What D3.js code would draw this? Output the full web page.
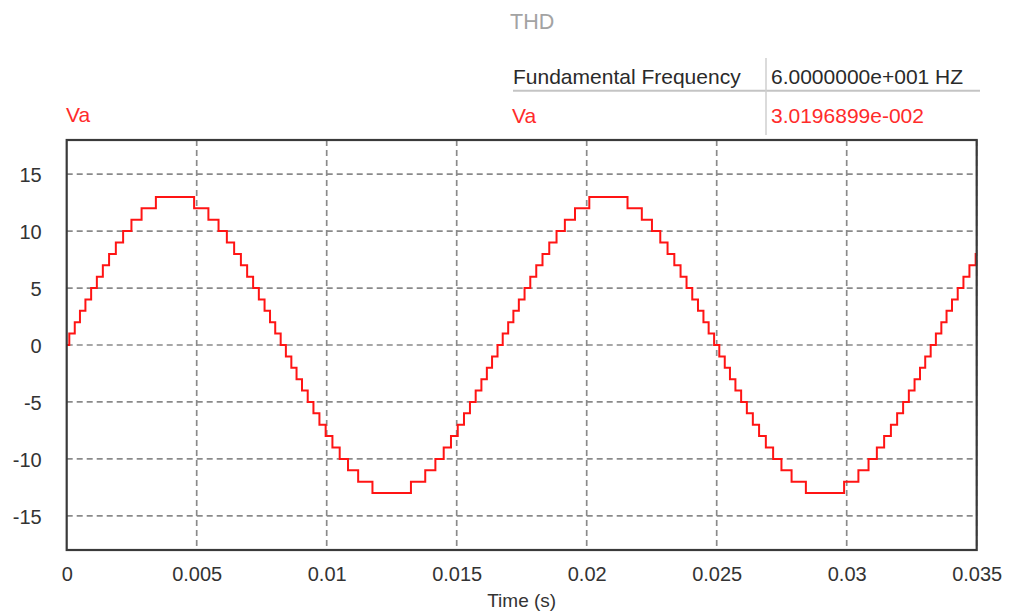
<!DOCTYPE html>
<html>
<head>
<meta charset="utf-8">
<script src="https://cdn.jsdelivr.net/npm/d3@7"></script>
<style>
  html, body { margin: 0; padding: 0; background: #ffffff; }
  svg { display: block; }
  text { font-family: "Liberation Sans", Arial, sans-serif; }
</style>
</head>
<body>
<svg id="chart" width="1009" height="612"></svg>
<script>
// ---- data ----
const title = "THD";
const seriesName = "Va";
const tableLabels = ["Fundamental Frequency", "Va"];
const tableValues = ["6.0000000e+001 HZ", "3.0196899e-002"];
const xLabel = "Time (s)";

const xTicks = [0, 0.005, 0.01, 0.015, 0.02, 0.025, 0.03, 0.035];
const xTickLabels = ["0", "0.005", "0.01", "0.015", "0.02", "0.025", "0.03", "0.035"];
const yTicks = [-15, -10, -5, 0, 5, 10, 15];
const yTickLabels = ["-15", "-10", "-5", "0", "5", "10", "15"];

// start time (s) of each constant level of the staircase voltage Va
const stepTimes = [
  0, 0.00010, 0.00031, 0.00051, 0.00072, 0.00094, 0.00116, 0.00139, 0.00163, 0.00189, 0.00217, 0.00249, 0.00288, 0.00343,
  0.00490, 0.00545, 0.00584, 0.00616, 0.00644, 0.00670, 0.00694, 0.00717, 0.00739, 0.00761, 0.00782, 0.00802, 0.00823,
  0.00843, 0.00864, 0.00884, 0.00905, 0.00927, 0.00949, 0.00972, 0.00996, 0.01022, 0.01050, 0.01082, 0.01121, 0.01176,
  0.01324, 0.01379, 0.01418, 0.01450, 0.01478, 0.01504, 0.01528, 0.01551, 0.01573, 0.01595, 0.01616, 0.01636, 0.01657,
  0.01677, 0.01698, 0.01718, 0.01739, 0.01761, 0.01783, 0.01806, 0.01830, 0.01856, 0.01884, 0.01916, 0.01955, 0.02010,
  0.02157, 0.02212, 0.02251, 0.02283, 0.02311, 0.02337, 0.02361, 0.02384, 0.02406, 0.02428, 0.02449, 0.02469, 0.02490,
  0.02510, 0.02531, 0.02551, 0.02572, 0.02594, 0.02616, 0.02639, 0.02663, 0.02689, 0.02717, 0.02749, 0.02788, 0.02843,
  0.02990, 0.03045, 0.03084, 0.03116, 0.03144, 0.03170, 0.03194, 0.03217, 0.03239, 0.03261, 0.03282, 0.03302, 0.03323,
  0.03343, 0.03364, 0.03384, 0.03405, 0.03427, 0.03449, 0.03472, 0.03496
];
// level (V) held from each start time
const stepLevels = [
  0, 1, 2, 3, 4, 5, 6, 7, 8, 9, 10, 11, 12, 13,
  12, 11, 10, 9, 8, 7, 6, 5, 4, 3, 2, 1, 0,
  -1, -2, -3, -4, -5, -6, -7, -8, -9, -10, -11, -12, -13,
  -12, -11, -10, -9, -8, -7, -6, -5, -4, -3, -2, -1, 0,
  1, 2, 3, 4, 5, 6, 7, 8, 9, 10, 11, 12, 13,
  12, 11, 10, 9, 8, 7, 6, 5, 4, 3, 2, 1, 0,
  -1, -2, -3, -4, -5, -6, -7, -8, -9, -10, -11, -12, -13,
  -12, -11, -10, -9, -8, -7, -6, -5, -4, -3, -2, -1, 0,
  1, 2, 3, 4, 5, 6, 7, 8
];
const tEnd = 0.035;
const yDomain = [-18, 18];

// ---- drawing ----
const svg = d3.select("#chart");
const plot = { left: 66.7, right: 976.7, top: 140, bottom: 550 };

const x = d3.scaleLinear().domain([0, tEnd]).range([plot.left, plot.right]);
const y = d3.scaleLinear().domain(yDomain).range([plot.bottom, plot.top]);

// title
svg.append("text")
  .attr("x", 510).attr("y", 29)
  .attr("font-size", 21.5).attr("fill", "#a3a3a3")
  .text(title);

// table lines
svg.append("line")
  .attr("x1", 513).attr("x2", 980).attr("y1", 90.7).attr("y2", 90.7)
  .attr("stroke", "#c4c4c4").attr("stroke-width", 2);
svg.append("line")
  .attr("x1", 766).attr("x2", 766).attr("y1", 58).attr("y2", 135)
  .attr("stroke", "#cfcfcf").attr("stroke-width", 1.5);

// table text
svg.append("text").attr("x", 513).attr("y", 84).attr("font-size", 21)
  .attr("fill", "#2a2a2a").text(tableLabels[0]);
svg.append("text").attr("x", 771).attr("y", 84).attr("font-size", 21)
  .attr("fill", "#2a2a2a").text(tableValues[0]);
svg.append("text").attr("x", 512).attr("y", 123).attr("font-size", 21)
  .attr("fill", "#ff2b2b").text(tableLabels[1]);
svg.append("text").attr("x", 771).attr("y", 123).attr("font-size", 21)
  .attr("fill", "#ff2b2b").text(tableValues[1]);

// series name at left
svg.append("text").attr("x", 66).attr("y", 122).attr("font-size", 21)
  .attr("fill", "#ff2b2b").text(seriesName);

// grid
const grid = svg.append("g");
grid.selectAll("line.h").data(yTicks).join("line")
  .attr("x1", plot.left).attr("x2", plot.right)
  .attr("y1", d => y(d)).attr("y2", d => y(d))
  .attr("stroke", "#8a8a8a").attr("stroke-width", 1.7)
  .attr("stroke-dasharray", "6,4");
grid.selectAll("line.v").data(xTicks.slice(1)).join("line")
  .attr("x1", d => x(d)).attr("x2", d => x(d))
  .attr("y1", plot.top).attr("y2", plot.bottom)
  .attr("stroke", "#8a8a8a").attr("stroke-width", 1.7)
  .attr("stroke-dasharray", "6,4");

// clip
svg.append("clipPath").attr("id", "clip").append("rect")
  .attr("x", plot.left).attr("y", plot.top)
  .attr("width", plot.right - plot.left).attr("height", plot.bottom - plot.top);

// series
const pts = stepTimes.map((t, i) => [t, stepLevels[i]]);
pts.push([tEnd, stepLevels[stepLevels.length - 1]]);
const line = d3.line().x(d => x(d[0])).y(d => y(d[1])).curve(d3.curveStepAfter);
svg.append("path")
  .attr("clip-path", "url(#clip)")
  .attr("d", line(pts))
  .attr("fill", "none").attr("stroke", "#ff1414").attr("stroke-width", 2)
  .attr("stroke-linejoin", "miter");

// frame
svg.append("rect")
  .attr("x", plot.left).attr("y", plot.top)
  .attr("width", plot.right - plot.left).attr("height", plot.bottom - plot.top)
  .attr("fill", "none").attr("stroke", "#3a3a3a").attr("stroke-width", 2.2);

// axes (labels only)
const xAxis = d3.axisBottom(x).tickValues(xTicks).tickSize(0).tickPadding(0)
  .tickFormat((d, i) => xTickLabels[i]);
const gx = svg.append("g").attr("transform", `translate(0,${plot.bottom})`).call(xAxis);
gx.select(".domain").remove();
gx.selectAll("text").attr("font-size", 20).attr("fill", "#333")
  .attr("font-family", "Liberation Sans, Arial, sans-serif")
  .attr("dy", null).attr("y", 31);

const yAxis = d3.axisLeft(y).tickValues(yTicks).tickSize(0).tickPadding(0)
  .tickFormat((d, i) => yTickLabels[i]);
const gy = svg.append("g").attr("transform", `translate(${plot.left},0)`).call(yAxis);
gy.select(".domain").remove();
gy.selectAll("text").attr("font-size", 20).attr("fill", "#333")
  .attr("font-family", "Liberation Sans, Arial, sans-serif")
  .attr("x", -25).attr("dy", "0.36em");

// x label
svg.append("text")
  .attr("x", (plot.left + plot.right) / 2).attr("y", 606.5)
  .attr("text-anchor", "middle").attr("font-size", 19).attr("fill", "#333")
  .text(xLabel);
</script>
</body>
</html>
